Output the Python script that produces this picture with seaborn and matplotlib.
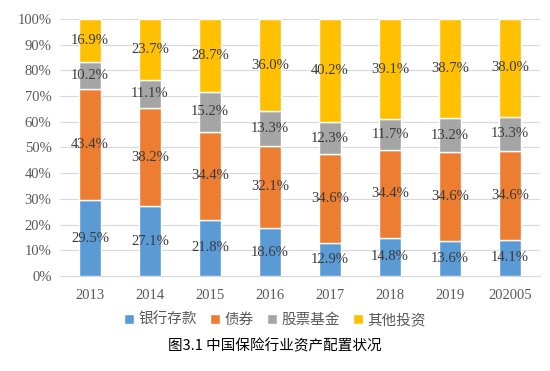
import matplotlib.pyplot as plt
import seaborn as sns
import pandas as pd
import numpy as np

years = ["2013", "2014", "2015", "2016", "2017", "2018", "2019", "202005"]
bank = [29.5, 27.1, 21.8, 18.6, 12.9, 14.8, 13.6, 14.1]
bond = [43.4, 38.2, 34.4, 32.1, 34.6, 34.4, 34.6, 34.6]
stock = [10.2, 11.1, 15.2, 13.3, 12.3, 11.7, 13.2, 13.3]
other = [16.9, 23.7, 28.7, 36.0, 40.2, 39.1, 38.7, 38.0]

series = ["银行存款", "债券", "股票基金", "其他投资"]
colors = ["#5B9BD5", "#ED7D31", "#A5A5A5", "#FFC000"]

sns.set_style("white")
plt.rcParams["font.family"] = ["Noto Sans CJK SC", "DejaVu Sans"]

fig = plt.figure(figsize=(5.5, 3.71), dpi=100)
ax = fig.add_axes([0.109, 0.256, 0.873, 0.693])

bottom = np.zeros(len(years))
for name, vals, col in zip(series, [bank, bond, stock, other], colors):
    df = pd.DataFrame({"year": years, "val": vals})
    sns.barplot(data=df, x="year", y="val", color=col, bottom=bottom,
                width=0.38, ax=ax, label=name, saturation=1, zorder=3)
    # value labels in the middle of each segment
    for i, v in enumerate(vals):
        ax.text(i, bottom[i] + v / 2, f"{v:.1f}%", ha="center", va="center",
                fontsize=10.5, color="#3A3A3A", family="Liberation Serif", zorder=4)
    bottom = bottom + np.array(vals)

ax.set_ylim(0, 100)
ax.set_xlim(-0.5, len(years) - 0.5)
ax.set_yticks(range(0, 101, 10))
ax.set_yticklabels([f"{t}%" for t in range(0, 101, 10)])
for lab in ax.get_xticklabels() + ax.get_yticklabels():
    lab.set_family("Liberation Serif")
    lab.set_fontsize(10.5)
    lab.set_color("#595959")
ax.tick_params(axis="y", length=0, pad=6)
ax.tick_params(axis="x", length=0, pad=9)
ax.grid(axis="y", color="#D9D9D9", linewidth=0.8, zorder=0)
ax.set_xlabel("")
ax.set_ylabel("")
for s in ["top", "right", "left"]:
    ax.spines[s].set_visible(False)
ax.spines["bottom"].set_color("#D9D9D9")

handles, labels = ax.get_legend_handles_labels()
if ax.get_legend():
    ax.get_legend().remove()
leg = fig.legend(handles, labels, loc="center", bbox_to_anchor=(0.5, 0.137), ncol=4,
                 frameon=False, handlelength=0.7, handleheight=0.7, handletextpad=0.3,
                 columnspacing=0.9, prop={"size": 10.5})
for t in leg.get_texts():
    t.set_color("#595959")

fig.text(0.5, 0.068, "图3.1 中国保险行业资产配置状况", ha="center", va="center",
         fontsize=10.5, color="black")

fig.savefig("out.png", dpi=100)
